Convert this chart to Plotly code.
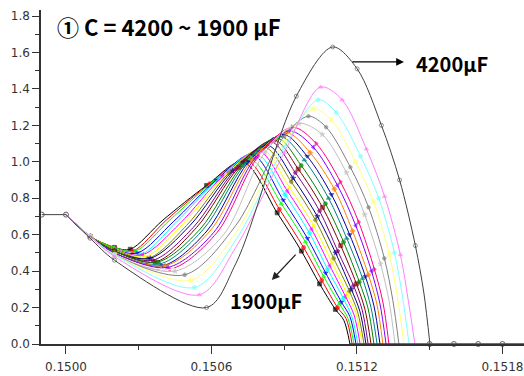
import plotly.graph_objects as go

# ---------------- data ----------------
CAPACITANCE_UF = [4200, 4100, 4000, 3900, 3800, 3700, 3600, 3500, 3400, 3300, 3200, 3100,
                  3000, 2900, 2800, 2700, 2600, 2500, 2400, 2300, 2200, 2100, 2000, 1900]

X_START = [0.14990, 0.15000]
Y_START = [0.71, 0.71]

X_P1 = 0.15000
Y_P1 = 0.71
X_P2 = 0.15010
Y_P2 = [0.58, 0.59, 0.59, 0.59, 0.59, 0.59, 0.59, 0.59, 0.59, 0.59, 0.59, 0.59,
        0.59, 0.59, 0.59, 0.59, 0.59, 0.59, 0.59, 0.59, 0.59, 0.59, 0.59, 0.59]
X_P3 = 0.15020
Y_P3 = [0.46, 0.48, 0.49, 0.49, 0.49, 0.49, 0.49, 0.49, 0.50, 0.50, 0.50, 0.50,
        0.51, 0.51, 0.51, 0.51, 0.52, 0.52, 0.52, 0.52, 0.52, 0.53, 0.53, 0.53]

X_MIN = [0.15058, 0.15055, 0.15053, 0.150515, 0.15049, 0.15045, 0.15044, 0.150429,
         0.150419, 0.150409, 0.150399, 0.150388, 0.150378, 0.150368, 0.150358, 0.150347,
         0.150337, 0.150327, 0.150316, 0.150306, 0.150296, 0.150286, 0.150275, 0.150265]
Y_MIN = [0.20, 0.27, 0.31, 0.35, 0.38, 0.40, 0.41, 0.41, 0.42, 0.43, 0.43, 0.44,
         0.45, 0.45, 0.46, 0.47, 0.47, 0.48, 0.49, 0.49, 0.50, 0.51, 0.51, 0.52]

X_RISE1 = [0.15070, 0.15070, 0.15070, 0.15070, 0.15070, 0.15065, 0.150636, 0.150622,
           0.150608, 0.150594, 0.150581, 0.150567, 0.150553, 0.150539, 0.150525, 0.150511,
           0.150497, 0.150483, 0.150469, 0.150456, 0.150442, 0.150428, 0.150414, 0.15040]
Y_RISE1 = [0.44, 0.53, 0.57, 0.61, 0.65, 0.60, 0.60, 0.61, 0.61, 0.62, 0.62, 0.63,
           0.63, 0.64, 0.64, 0.65, 0.65, 0.66, 0.66, 0.67, 0.67, 0.68, 0.68, 0.68]

X_RISE2 = [0.15095, 0.15090, 0.15090, 0.15090, 0.15090, 0.150820, 0.150807, 0.150793,
           0.150780, 0.150767, 0.150753, 0.150740, 0.150727, 0.150713, 0.150700, 0.150687,
           0.150673, 0.150660, 0.150647, 0.150633, 0.150620, 0.150607, 0.150593, 0.150580]
Y_RISE2 = [1.36, 1.05, 1.08, 1.11, 1.14, 1.05, 1.04, 1.03, 1.02, 1.01, 1.00, 0.99,
           0.98, 0.97, 0.96, 0.95, 0.94, 0.93, 0.92, 0.91, 0.90, 0.89, 0.88, 0.87]

X_PEAK = [0.15110, 0.15105, 0.15104, 0.15102, 0.15100, 0.150960, 0.150947, 0.150934,
          0.150921, 0.150909, 0.150896, 0.150883, 0.150870, 0.150858, 0.150845, 0.150832,
          0.150819, 0.150807, 0.150794, 0.150781, 0.150768, 0.150756, 0.150743, 0.150730]
Y_PEAK = [1.63, 1.41, 1.34, 1.29, 1.25, 1.21, 1.20, 1.19, 1.17, 1.16, 1.15, 1.14,
          1.13, 1.12, 1.11, 1.09, 1.08, 1.07, 1.06, 1.05, 1.04, 1.02, 1.01, 1.00]

X_DESC1 = [0.151201, 0.151139, 0.151115, 0.151094, 0.151073, 0.151057, 0.151045, 0.151032,
           0.151020, 0.151007, 0.150995, 0.150983, 0.150970, 0.150958, 0.150946, 0.150937,
           0.150929, 0.150921, 0.150913, 0.150904, 0.150896, 0.150888, 0.150880, 0.150871]
Y_DESC1 = [1.51, 1.34, 1.27, 1.23, 1.19, 1.15, 1.13, 1.10, 1.08, 1.05, 1.03, 1.01,
           0.98, 0.96, 0.94, 0.91, 0.89, 0.86, 0.84, 0.82, 0.79, 0.77, 0.74, 0.72]

X_DESC2 = [0.151301, 0.151239, 0.151215, 0.151194, 0.151173, 0.151157, 0.151145, 0.151132,
           0.151120, 0.151107, 0.151095, 0.151083, 0.151070, 0.151058, 0.151046, 0.151037,
           0.151029, 0.151021, 0.151013, 0.151004, 0.150996, 0.150988, 0.150980, 0.150971]
Y_DESC2 = [1.20, 1.07, 1.03, 1.00, 0.97, 0.94, 0.92, 0.89, 0.87, 0.85, 0.82, 0.80,
           0.77, 0.75, 0.73, 0.70, 0.68, 0.65, 0.63, 0.61, 0.58, 0.56, 0.53, 0.51]

X_DESC3 = [0.151376, 0.151314, 0.151290, 0.151269, 0.151248, 0.151232, 0.151220, 0.151207,
           0.151195, 0.151182, 0.151170, 0.151158, 0.151145, 0.151133, 0.151121, 0.151112,
           0.151104, 0.151096, 0.151088, 0.151079, 0.151071, 0.151063, 0.151055, 0.151046]
Y_DESC3 = [0.90, 0.81, 0.80, 0.78, 0.75, 0.71, 0.69, 0.67, 0.65, 0.62, 0.60, 0.58,
           0.56, 0.54, 0.51, 0.50, 0.47, 0.45, 0.43, 0.41, 0.39, 0.37, 0.35, 0.33]

X_DESC4 = [0.151441, 0.151379, 0.151355, 0.151334, 0.151313, 0.151297, 0.151285, 0.151272,
           0.151260, 0.151247, 0.151235, 0.151223, 0.151210, 0.151198, 0.151186, 0.151177,
           0.151169, 0.151161, 0.151153, 0.151144, 0.151136, 0.151128, 0.151120, 0.151111]
Y_DESC4 = [0.54, 0.49, 0.50, 0.49, 0.47, 0.44, 0.43, 0.41, 0.40, 0.38, 0.37, 0.36,
           0.34, 0.33, 0.32, 0.30, 0.29, 0.27, 0.26, 0.25, 0.23, 0.22, 0.20, 0.19]

X_DESC5 = [0.151476, 0.151414, 0.151390, 0.151369, 0.151348, 0.151332, 0.151320, 0.151307,
           0.151295, 0.151282, 0.151270, 0.151258, 0.151245, 0.151233, 0.151221, 0.151212,
           0.151204, 0.151196, 0.151188, 0.151179, 0.151171, 0.151163, 0.151155, 0.151146]
Y_DESC5 = [0.28, 0.22, 0.24, 0.24, 0.24, 0.24, 0.23, 0.23, 0.22, 0.22, 0.21, 0.20,
           0.20, 0.19, 0.19, 0.18, 0.17, 0.17, 0.16, 0.15, 0.15, 0.14, 0.14, 0.13]

X_END = [0.151501, 0.151439, 0.151415, 0.151394, 0.151373, 0.151357, 0.151345, 0.151332,
         0.151320, 0.151307, 0.151295, 0.151283, 0.151270, 0.151258, 0.151246, 0.151237,
         0.151229, 0.151221, 0.151213, 0.151204, 0.151196, 0.151188, 0.151180, 0.151171]
Y_END = 0.0

X_TAIL = [0.151171, 0.151900]
Y_TAIL = [0.0, 0.0]
X_TAIL_MARK = [0.15150, 0.15160, 0.15170, 0.15180]
Y_TAIL_MARK = [0.0, 0.0, 0.0, 0.0]

X_TICKS = [0.1500, 0.1506, 0.1512, 0.1518]
X_TICK_TEXT = ["0.1500", "0.1506", "0.1512", "0.1518"]
X_MINOR = [0.1503, 0.1509, 0.1515]
Y_TICKS = [0.0, 0.2, 0.4, 0.6, 0.8, 1.0, 1.2, 1.4, 1.6, 1.8]
Y_TICK_TEXT = ["0.0", "0.2", "0.4", "0.6", "0.8", "1.0", "1.2", "1.4", "1.6", "1.8"]

TITLE = "① C = 4200 ~ 1900 μF"
LABEL_HI = "4200μF"
LABEL_LO = "1900μF"

# ---------------- styles ----------------
COLORS = ['#404040', '#FF80FF', '#80FFFF', '#FFFF80', '#808080', '#C0C0C0', '#FFFFFF',
          '#FF0080', '#8000FF', '#FF8000', '#0000A0', '#008080', '#008000', '#800000',
          '#800080', '#000080', '#808000', '#FFFF00', '#FF00FF', '#00FFFF', '#0000FF',
          '#00FF00', '#FF0000', '#000000']
SYMBOLS = ['square', 'circle', 'triangle-up', 'triangle-down', 'diamond', 'triangle-left',
           'triangle-right', 'hexagon', 'star', 'pentagon']
POINT_MARKER_SIZE = [0, 4, 4, 4, 0, 4, 4, 4, 4, 4, 4, 0, 0]

fig = go.Figure()

for k in reversed(range(len(CAPACITANCE_UF))):
    xs = [X_P1, X_P2, X_P3, X_MIN[k], X_RISE1[k], X_RISE2[k], X_PEAK[k],
          X_DESC1[k], X_DESC2[k], X_DESC3[k], X_DESC4[k], X_DESC5[k], X_END[k]]
    ys = [Y_P1, Y_P2[k], Y_P3[k], Y_MIN[k], Y_RISE1[k], Y_RISE2[k], Y_PEAK[k],
          Y_DESC1[k], Y_DESC2[k], Y_DESC3[k], Y_DESC4[k], Y_DESC5[k], Y_END]
    i = len(CAPACITANCE_UF) - 1 - k
    sym = 'circle-open' if k == 0 else SYMBOLS[i % len(SYMBOLS)]
    fig.add_trace(go.Scatter(
        x=xs, y=ys, mode='lines+markers', name=f"{CAPACITANCE_UF[k]} μF",
        line=dict(color=COLORS[k], width=1, shape='spline', smoothing=0.9),
        marker=dict(symbol=sym, size=POINT_MARKER_SIZE, color=COLORS[k],
                    line=dict(width=0.8, color=COLORS[k])),
        cliponaxis=False, showlegend=False, hoverinfo='skip'))

fig.add_trace(go.Scatter(
    x=X_TAIL, y=Y_TAIL, mode='lines', line=dict(color='#404040', width=1.5),
    cliponaxis=False, showlegend=False, hoverinfo='skip'))
fig.add_trace(go.Scatter(
    x=X_TAIL_MARK, y=Y_TAIL_MARK, mode='markers',
    marker=dict(symbol='circle-open', size=5, color='#606060', line=dict(width=1)),
    cliponaxis=False, showlegend=False, hoverinfo='skip'))
fig.add_trace(go.Scatter(
    x=X_START, y=Y_START, mode='lines+markers', line=dict(color='#404040', width=1),
    marker=dict(symbol='circle-open', size=5, color='#606060', line=dict(width=1)),
    cliponaxis=False, showlegend=False, hoverinfo='skip'))

tick_font = dict(family='DejaVu Sans', size=12, color='#333333')
fig.update_layout(
    width=524, height=376,
    margin=dict(l=41, r=0, t=10, b=32),
    paper_bgcolor='white', plot_bgcolor='white',
    xaxis=dict(range=[0.149897, 0.151889], showgrid=False, zeroline=False,
               automargin=False,
               showline=True, linecolor='#333333', linewidth=1.5,
               ticks='outside', ticklen=8, tickwidth=1.2, tickcolor='#333333',
               tickvals=X_TICKS, ticktext=X_TICK_TEXT, tickfont=tick_font,
               ticklabelstandoff=3,
               minor=dict(tickvals=X_MINOR, ticks='outside', ticklen=4,
                          tickwidth=1.2, tickcolor='#333333')),
    yaxis=dict(range=[0, 1.833], showgrid=False, zeroline=False,
               automargin=False,
               showline=True, linecolor='#333333', linewidth=1.5,
               ticks='outside', ticklen=7, tickwidth=1.2, tickcolor='#333333',
               tickvals=Y_TICKS, ticktext=Y_TICK_TEXT, tickfont=tick_font,
               minor=dict(dtick=0.1, tick0=0, ticks='outside', ticklen=4,
                          tickwidth=1.2, tickcolor='#333333')),
)

lab_font = dict(family='Noto Sans CJK KR', size=20, color='black')
fig.add_annotation(x=0.149955, y=1.745, xref='x', yref='y', text=f"<b>{TITLE}</b>",
                   showarrow=False, xanchor='left', yanchor='middle',
                   font=dict(family='Noto Sans CJK KR', size=22, color='black'))
fig.add_annotation(x=0.151592, y=1.537, xref='x', yref='y', text=f"<b>{LABEL_HI}</b>",
                   showarrow=False, xanchor='center', yanchor='middle', font=lab_font)
fig.add_annotation(x=0.150825, y=0.241, xref='x', yref='y', text=f"<b>{LABEL_LO}</b>",
                   showarrow=False, xanchor='center', yanchor='middle', font=lab_font)
# arrows
fig.add_annotation(x=0.151394, y=1.548, ax=0.151175, ay=1.548, xref='x', yref='y',
                   axref='x', ayref='y', text='', showarrow=True, arrowhead=2,
                   arrowsize=1.2, arrowwidth=1.3, arrowcolor='black')
fig.add_annotation(x=0.150849, y=0.351, ax=0.150953, ay=0.499, xref='x', yref='y',
                   axref='x', ayref='y', text='', showarrow=True, arrowhead=2,
                   arrowsize=1.2, arrowwidth=1.3, arrowcolor='#222222')

fig.write_html("out.html")
